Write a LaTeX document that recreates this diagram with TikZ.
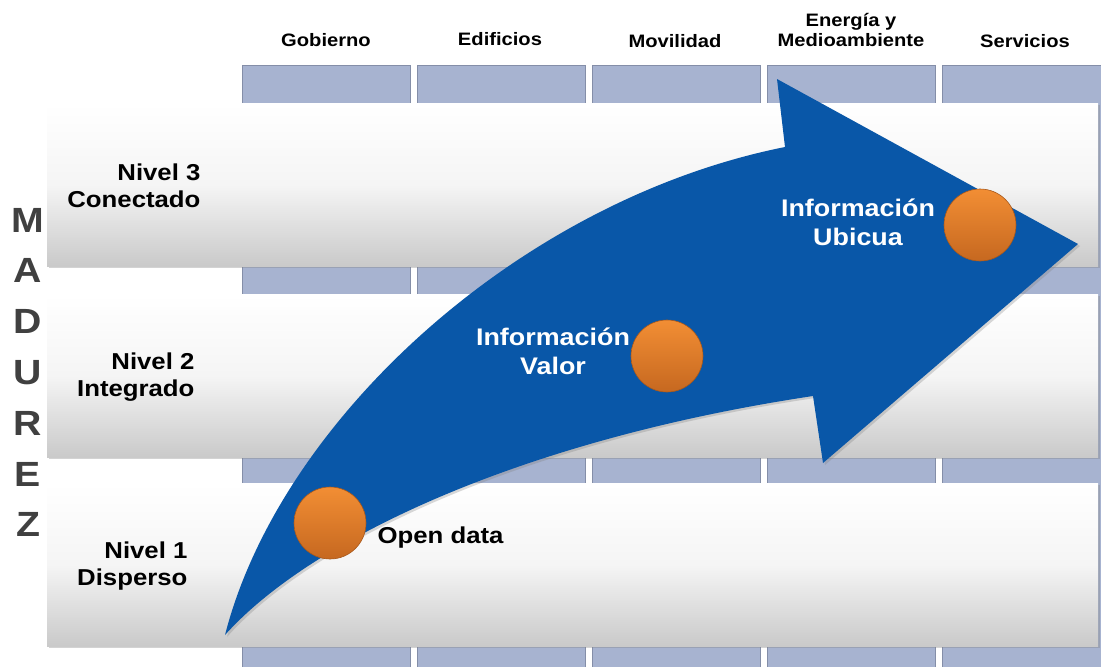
\documentclass[tikz,border=0pt]{standalone}
\usepackage{fontspec}
\setmainfont{Liberation Sans}[FakeStretch=1.12]
\usepackage{tikz}
\usetikzlibrary{positioning, shadows}
\definecolor{colfill}{RGB}{167,179,208}
\definecolor{coledge}{RGB}{132,142,168}
\definecolor{arrowblue}{RGB}{9,87,168}
\definecolor{dotlight}{RGB}{242,142,52}
\definecolor{dotdark}{RGB}{198,104,32}
\definecolor{madgray}{RGB}{64,64,64}
\tikzset{
	sector/.style={rectangle, draw=coledge, line width=1pt, fill=colfill, minimum width=168pt, minimum height=640pt, anchor=north west, inner sep=0pt},
	sectortext/.style={font=\bfseries\fontsize{18}{20}\selectfont, align=center, anchor=base},
	level/.style={rectangle, top color=white, bottom color=black!21, middle color=white!96!black, minimum width=1051pt, minimum height=163pt, anchor=north west, inner sep=0pt, drop shadow={opacity=0.35, shadow xshift=2pt, shadow yshift=-2pt}},
	leveltext/.style={font=\bfseries\fontsize{23}{27}\selectfont, align=right, anchor=east},
	madtext/.style={font=\bfseries\fontsize{35}{35}\selectfont, text=madgray},
	dot/.style={circle, top color=dotlight, bottom color=dotdark, draw=dotdark!85!black, line width=0.6pt, minimum size=72pt, inner sep=0pt},
	infotext/.style={font=\bfseries\fontsize{24}{29}\selectfont, align=center, text=white},
}

\begin{document}
\begin{tikzpicture}[x=1pt, y=-1pt]
	\useasboundingbox (0,0) rectangle (1101,667);
	% the sector columns
	\foreach \name [count=\i from 0] in {gob, edif, movil, energia, serv}
		\node[sector] (\name) at ({242+175*\i},65) {};
	\node[sectortext] (tgob) at (326,46) {Gobierno};
	\node[sectortext] (tedif) at (500,45) {Edificios};
	\node[sectortext] (tmovil) at (675,47) {Movilidad};
	\node[sectortext] (tenergia) at (851,46) {Energía y\\Medioambiente};
	\node[sectortext] (tserv) at (1025,47) {Servicios};
	% the levels
	\node[level] (niv3) at (47,103) {};
	\node[level] (niv2) at (47,294) {};
	\node[level] (niv1) at (47,483) {};
	\node[leveltext] (lniv3) at (204,186) {Nivel 3\\Conectado};
	\node[leveltext] (lniv2) at (198,377) {Nivel 2\\Integrado};
	\node[leveltext] (lniv1) at (191,566) {Nivel 1\\Disperso};
	\foreach \l [count=\i from 0] in {M,A,D,U,R,E,Z}
		\node[madtext] (mad\i) at (28,{220+50.8*\i}) {\l};
	% the arrow
	\coordinate (tail) at (225,635);
	\coordinate (notchup) at (785,147);
	\coordinate (barbup) at (777,79);
	\coordinate (tip) at (1078,244);
	\coordinate (barbdown) at (823,463);
	\coordinate (notchdown) at (813,396);
	\fill[arrowblue, drop shadow={opacity=0.3, shadow xshift=2pt, shadow yshift=-2pt}]
		(tail) .. controls (280,420) and (520,200) .. (notchup) -- (barbup) -- (tip)
		-- (barbdown) -- (notchdown) .. controls (520,440) and (310,540) .. (tail) -- cycle;
	% the stages
	\node[dot] (dot1) at (330,523) {};
	\node[dot] (dot2) at (667,356) {};
	\node[dot] (dot3) at (980,225) {};
	\node[font=\bfseries\fontsize{23}{27}\selectfont, anchor=west] (open) at (374,538) {Open data};
	\node[infotext] (valor) at (553,351) {Información\\Valor};
	\node[infotext] (ubicua) at (858,222) {Información\\Ubicua};
\end{tikzpicture}
\end{document}
